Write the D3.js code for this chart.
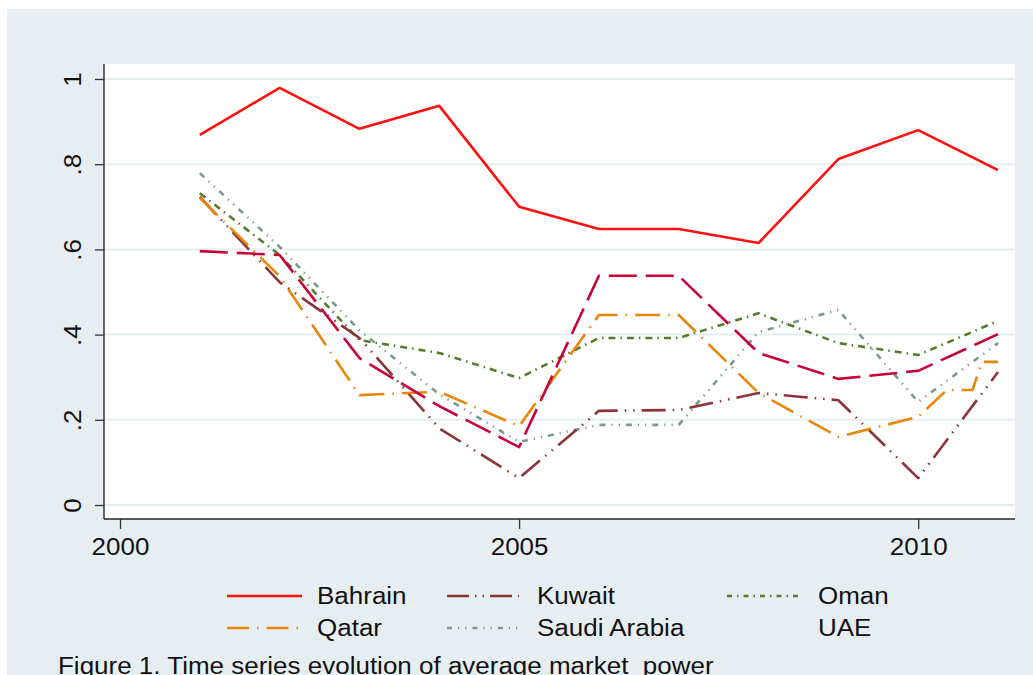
<!DOCTYPE html>
<meta charset="utf-8">
<style>
body { margin: 0; background: #fff; }
text { font-family: "Liberation Sans", Arial, sans-serif; fill: #111; white-space: pre; }
.line { fill: none; stroke-width: 2.6; stroke-linejoin: round; }
</style>
<svg width="1033" height="675" id="chart"></svg>
<script src="https://d3js.org/d3.v7.min.js"></script>
<script>
// values
var years   = [2001, 2002, 2003, 2004, 2005, 2006, 2007, 2008, 2009, 2010, 2011];
var bahrain = [0.869, 0.979, 0.883, 0.937, 0.700, 0.648, 0.648, 0.615, 0.812, 0.880, 0.786];
var kuwait  = [0.723, 0.523, 0.392, 0.180, 0.063, 0.221, 0.223, 0.263, 0.246, 0.063, 0.312];
var oman    = [0.732, 0.587, 0.387, 0.357, 0.298, 0.392, 0.392, 0.450, 0.380, 0.352, 0.432];
var qatar   = [0.721, 0.537, 0.258, 0.266, 0.185, 0.446, 0.446, 0.263, 0.160, 0.207, 0.336];
var saudi   = [0.779, 0.606, 0.410, 0.260, 0.148, 0.188, 0.188, 0.406, 0.458, 0.242, 0.380];
var uae     = [0.596, 0.587, 0.345, 0.232, 0.136, 0.538, 0.538, 0.357, 0.296, 0.315, 0.401];
// qatar's last segment has a step in it between 2010 and 2011
var qatarStepYears  = [2010.36, 2010.68, 2010.80];
var qatarStepValues = [0.270, 0.270, 0.336];

var yTicks = [0, 0.2, 0.4, 0.6, 0.8, 1];
var yTickLabels = ["0", ".2", ".4", ".6", ".8", "1"];
var xTicks = [2000, 2005, 2010];
var caption = "Figure 1. Time series evolution of average market  power";

var svg = d3.select("#chart");
var W = 1033, H = 675;
var wide = 1.13; // the figure's font runs wider than Arial

svg.append("rect").attr("x", 7).attr("y", 9).attr("width", W - 7).attr("height", H - 9)
  .attr("fill", "#e7eef1");

var plot = {left: 104, right: 1015, top: 64, bottom: 519};
svg.append("rect")
  .attr("x", plot.left).attr("y", plot.top)
  .attr("width", plot.right - plot.left).attr("height", plot.bottom - plot.top)
  .attr("fill", "#fff");

var x = d3.scaleLinear().domain([2000, 2011]).range([120, 998]);
var y = d3.scaleLinear().domain([0, 1]).range([505, 79]);

// grid
svg.append("g").selectAll("line")
  .data(yTicks)
  .enter().append("line")
    .attr("x1", plot.left).attr("x2", plot.right)
    .attr("y1", d => y(d)).attr("y2", d => y(d))
    .attr("stroke", "#e7eef1").attr("stroke-width", 2);

// y axis
var yAxis = g => g
    .attr("transform", `translate(${plot.left},0)`)
    .call(d3.axisLeft(y).tickValues(yTicks).tickSize(9).tickSizeOuter(0)
      .tickFormat((d, i) => yTickLabels[i]))
    .call(g => g.select(".domain").attr("d", `M0,${plot.top}V${plot.bottom}`))
    .call(g => g.selectAll(".tick line").attr("stroke", "#333").attr("stroke-width", 1.3))
    .call(g => g.selectAll(".tick text")
        .attr("x", 0).attr("dy", 0)
        .attr("transform", `translate(-31,0) rotate(-90) scale(${wide},1)`)
        .attr("text-anchor", "middle")
        .attr("dominant-baseline", "central")
        .attr("font-size", 23)
        .attr("font-family", "Liberation Sans, Arial, sans-serif")
        .attr("fill", "#111"));

var xAxis = g => g
    .attr("transform", `translate(0,${plot.bottom})`)
    .call(d3.axisBottom(x).tickValues(xTicks).tickSize(10).tickSizeOuter(0).tickFormat(d3.format("d")))
    .call(g => g.select(".domain").attr("d", `M${plot.left},0H${plot.right}`))
    .call(g => g.selectAll(".tick line").attr("stroke", "#333").attr("stroke-width", 1.3))
    .call(g => g.selectAll(".tick text")
        .attr("y", 0).attr("dy", 0)
        .attr("transform", `translate(0,28) scale(${wide},1)`)
        .attr("dominant-baseline", "central")
        .attr("font-size", 23)
        .attr("font-family", "Liberation Sans, Arial, sans-serif")
        .attr("fill", "#111"));

svg.append("g").call(yAxis).select(".domain").attr("stroke", "#333").attr("stroke-width", 1.5);
svg.append("g").call(xAxis).select(".domain").attr("stroke", "#222").attr("stroke-width", 1.5);

// series
var series = [
  {name: "Bahrain",      vals: bahrain, color: "#ff1010", dash: null},
  {name: "Kuwait",       vals: kuwait,  color: "#8c3538", dash: "24,7,1.5,7,1.5,7"},
  {name: "Oman",         vals: oman,    color: "#587a2c", dash: "7,5,1.5,5"},
  {name: "Qatar",        vals: qatar,   color: "#e8870a", dash: "25,8,1.5,8"},
  {name: "Saudi Arabia", vals: saudi,   color: "#7a9990", dash: "6,6,1.2,6,1.2,6"},
  {name: "UAE",          vals: uae,     color: "#c8033a", dash: "28,9"}
];

var line = d3.line().x(d => x(d[0])).y(d => y(d[1]));

var drawOrder = ["Saudi Arabia", "Oman", "Kuwait", "Qatar", "UAE", "Bahrain"];
drawOrder.forEach(function(n) {
  var s = series.find(d => d.name === n);
  var pts = years.map((yr, i) => [yr, s.vals[i]]);
  if (n === "Qatar") {
    var last = pts.pop();
    qatarStepYears.forEach((yr, i) => pts.push([yr, qatarStepValues[i]]));
    pts.push(last);
  }
  svg.append("path")
    .datum(pts)
    .attr("class", "line")
    .attr("stroke", s.color)
    .attr("stroke-dasharray", s.dash)
    .attr("d", line);
});

// legend (UAE key drawn without a sample line, as in the figure)
var legendPos = [
  {name: "Bahrain", x: 227, y: 596, key: true},
  {name: "Kuwait", x: 447, y: 596, key: true},
  {name: "Oman", x: 727, y: 596, key: true},
  {name: "Qatar", x: 227, y: 628, key: true},
  {name: "Saudi Arabia", x: 447, y: 628, key: true},
  {name: "UAE", x: 727, y: 628, key: false}
];
var legendDash = {
  "Kuwait": "22,6,1.5,6,1.5,6",
  "Oman": "5,5,1.5,5",
  "Qatar": "22,8,1.5,8",
  "Saudi Arabia": "5,6,1.2,6,1.2,6"
};
var leg = svg.append("g");
legendPos.forEach(function(p) {
  var s = series.find(d => d.name === p.name);
  var len = p.name === "Bahrain" || p.name === "Qatar" ? 75 : 72;
  if (p.key) {
    leg.append("line")
      .attr("x1", p.x).attr("x2", p.x + len)
      .attr("y1", p.y).attr("y2", p.y)
      .attr("stroke", s.color).attr("stroke-width", 2.6)
      .attr("stroke-dasharray", legendDash[p.name] || null);
  }
  leg.append("text")
    .attr("transform", `translate(${p.x + (p.name === "Oman" || p.name === "UAE" ? 91 : 90)},${p.y}) scale(${wide},1)`)
    .attr("dominant-baseline", "central")
    .attr("font-size", 23)
    .text(p.name);
});

svg.append("text")
  .attr("transform", `translate(58,674) scale(${wide},1)`)
  .attr("font-size", 23)
  .text(caption);
</script>
